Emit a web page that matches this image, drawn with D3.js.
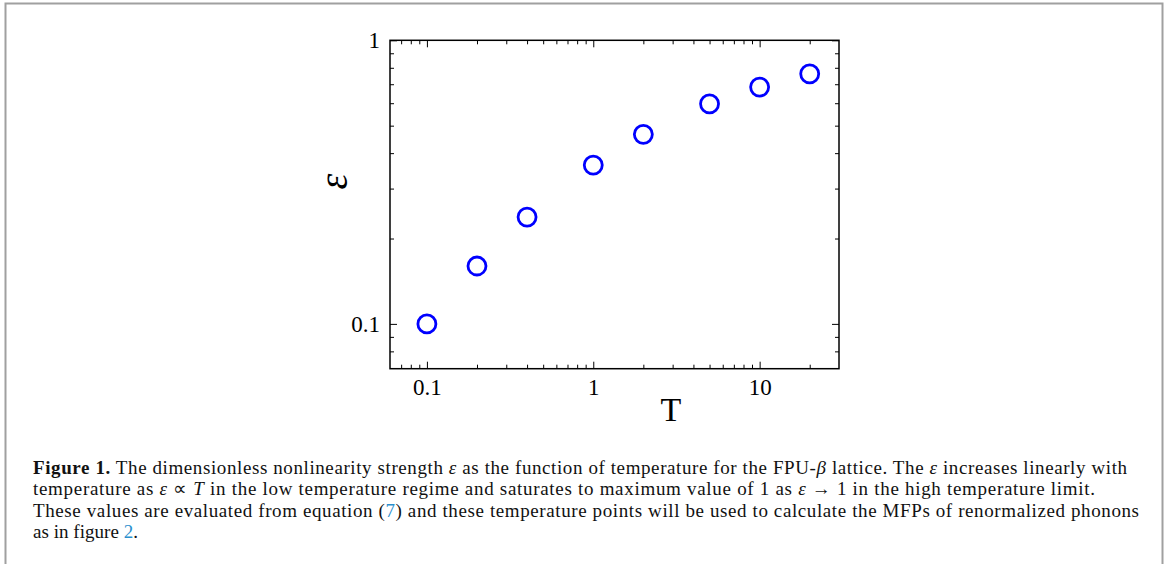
<!DOCTYPE html>
<html>
<head>
<meta charset="utf-8">
<script src="https://cdn.jsdelivr.net/npm/d3@7"></script>
<style>
html,body{margin:0;padding:0;background:#fff;}
svg{display:block;}
</style>
</head>
<body>
<svg id="chart" width="1168" height="564"></svg>
<script>
// ---- data ----
const temperatures = [0.1, 0.2, 0.4, 1, 2, 5, 10, 20];
const epsilonValues = [0.1, 0.16, 0.238, 0.363, 0.466, 0.597, 0.684, 0.762];
const xMajorTicks = [0.1, 1, 10];
const xMinorTicks = [0.07, 0.08, 0.09, 0.2, 0.3, 0.4, 0.5, 0.6, 0.7, 0.8, 0.9, 2, 3, 4, 5, 6, 7, 8, 9, 20];
const yMajorTicks = [0.1, 1];
const yMinorTicks = [0.08, 0.09, 0.2, 0.3, 0.4, 0.5, 0.6, 0.7, 0.8, 0.9];
const xTickLabels = ["0.1", "1", "10"];
const yTickLabels = ["0.1", "1"];
const xLabel = "T";
const yLabel = "ε";

const svg = d3.select("#chart");
const serif = "'Liberation Serif', 'Times New Roman', serif";

// outer frame
svg.append("rect").attr("x", 5.5).attr("y", 3.5).attr("width", 1157).attr("height", 600)
  .attr("fill", "none").attr("stroke", "#a0a0a0").attr("stroke-width", 2);

const L = 390, R = 839, T = 40.3, B = 368.7;
const x = d3.scaleLog().domain([0.06, 30]).range([L, R]);
const y = d3.scaleLog().domain([0.0695, 1]).range([B, T]);

function styleAxis(g) {
  g.select(".domain").remove();
  g.selectAll(".tick line").attr("stroke", "#000").attr("stroke-width", 1);
  g.selectAll("text").attr("font-family", serif).attr("font-size", 23).attr("fill", "#000");
}

// bottom
svg.append("g").attr("transform", `translate(0,${B})`)
  .call(d3.axisBottom(x).tickValues(xMajorTicks).tickSize(-7).tickPadding(10)
    .tickFormat((d, i) => xTickLabels[i])).call(styleAxis);
svg.append("g").attr("transform", `translate(0,${B})`)
  .call(d3.axisBottom(x).tickValues(xMinorTicks).tickSize(-4).tickFormat("")).call(styleAxis);
// top
svg.append("g").attr("transform", `translate(0,${T})`)
  .call(d3.axisTop(x).tickValues(xMajorTicks).tickSize(-7).tickFormat("")).call(styleAxis);
svg.append("g").attr("transform", `translate(0,${T})`)
  .call(d3.axisTop(x).tickValues(xMinorTicks).tickSize(-4).tickFormat("")).call(styleAxis);
// left
svg.append("g").attr("transform", `translate(${L},0)`)
  .call(d3.axisLeft(y).tickValues(yMajorTicks).tickSize(-7).tickPadding(10)
    .tickFormat((d, i) => yTickLabels[i])).call(styleAxis);
svg.append("g").attr("transform", `translate(${L},0)`)
  .call(d3.axisLeft(y).tickValues(yMinorTicks).tickSize(-4).tickFormat("")).call(styleAxis);
// right
svg.append("g").attr("transform", `translate(${R},0)`)
  .call(d3.axisRight(y).tickValues(yMajorTicks).tickSize(-7).tickFormat("")).call(styleAxis);
svg.append("g").attr("transform", `translate(${R},0)`)
  .call(d3.axisRight(y).tickValues(yMinorTicks).tickSize(-4).tickFormat("")).call(styleAxis);

// plot frame
svg.append("rect").attr("x", L).attr("y", T).attr("width", R - L).attr("height", B - T)
  .attr("fill", "none").attr("stroke", "#000").attr("stroke-width", 1.5);

// points
svg.append("g").selectAll("circle").data(temperatures).join("circle")
  .attr("cx", d => x(d)).attr("cy", (d, i) => y(epsilonValues[i])).attr("r", 9)
  .attr("fill", "none").attr("stroke", "#0000ff").attr("stroke-width", 2.8);

// axis labels
svg.append("text").attr("x", 671).attr("y", 420.7).attr("text-anchor", "middle")
  .attr("font-family", serif).attr("font-size", 34).text(xLabel);
svg.append("text").attr("transform", "translate(347,181.5) rotate(-90)").attr("text-anchor", "middle")
  .attr("font-family", serif).attr("font-style", "italic").attr("font-size", 40).text(yLabel);

// caption
const linkColor = "#2a8fce";
const captionLines = [
  { w: 1094, y: 474, parts: [["Figure 1.", "b"], [" The dimensionless nonlinearity strength "], ["ε", "i"], [" as the function of temperature for the FPU-"], ["β", "i"], [" lattice. The "], ["ε", "i"], [" increases linearly with"]] },
  { w: 1062, y: 495.3, parts: [["temperature as "], ["ε", "i"], [" ∝ "], ["T", "i"], [" in the low temperature regime and saturates to maximum value of 1 as "], ["ε", "i"], [" → 1 in the high temperature limit."]] },
  { w: 1106, y: 516.6, parts: [["These values are evaluated from equation ("], ["7", "l"], [") and these temperature points will be used to calculate the MFPs of renormalized phonons"]] },
  { w: 105, y: 538, parts: [["as in figure "], ["2", "l"], ["."]] }
];
const capTexts = captionLines.map(line => {
  const t = svg.append("text").attr("x", 33).attr("y", line.y)
    .attr("font-family", serif).attr("font-size", 18).attr("fill", "#111")
    .style("white-space", "pre");
  line.parts.forEach(([s, k]) => {
    const sp = t.append("tspan").text(s);
    if (k === "b") sp.attr("font-weight", "bold");
    if (k === "i") sp.attr("font-style", "italic");
    if (k === "l") sp.attr("fill", linkColor);
  });
  return t;
});
// choose a common font size so the widest line fits its measured width, then fit spacing
let fs = 18;
const ratios = capTexts.map((t, i) => captionLines[i].w / t.node().getComputedTextLength());
fs = Math.min(19, 18 * d3.min(ratios.slice(0, 3)));
capTexts.forEach((t, i) => {
  t.attr("font-size", fs);
  t.attr("textLength", captionLines[i].w).attr("lengthAdjust", "spacing");
});
</script>
</body>
</html>
